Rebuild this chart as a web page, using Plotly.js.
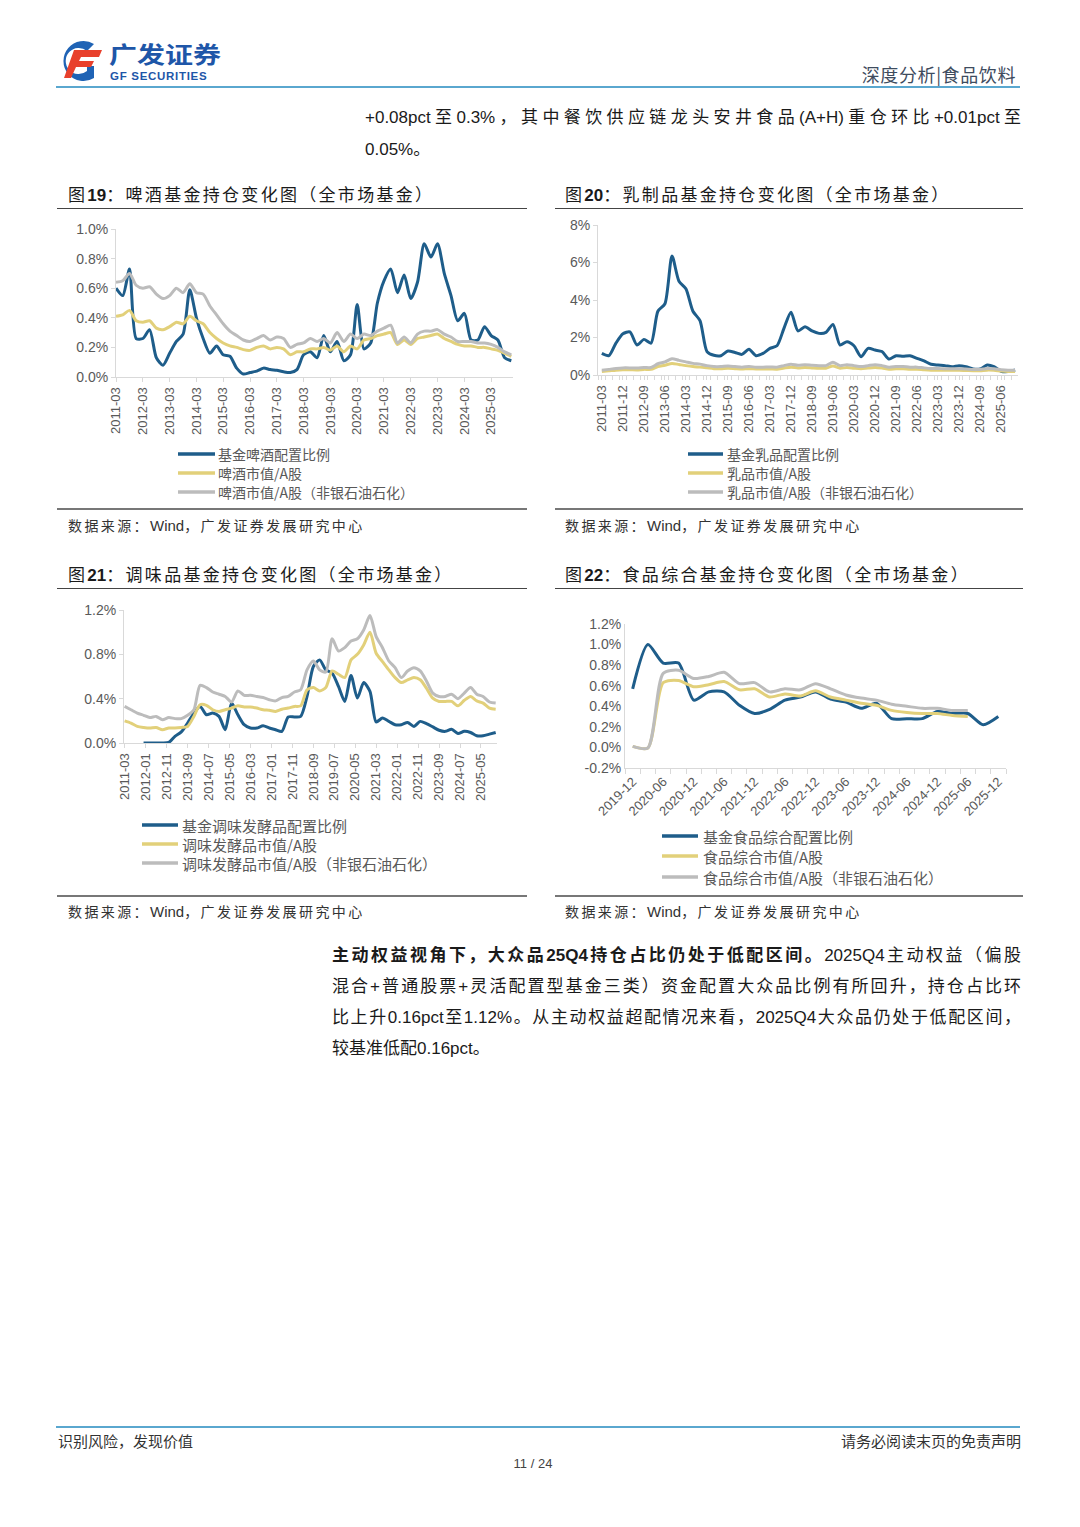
<!DOCTYPE html>
<html><head><meta charset="utf-8">
<script src="https://cdn.plot.ly/plotly-3.0.1.min.js"></script>
<style>
html,body{margin:0;padding:0;background:#fff;}
body{width:1080px;height:1527px;position:relative;overflow:hidden;font-family:"Liberation Sans Narrow","Liberation Sans","Noto Sans CJK SC",sans-serif;color:#222;}
.abs{position:absolute;}
.para{position:absolute;font-size:17px;line-height:20px;text-align:justify;text-align-last:justify;color:#1a1a1a;}
.ttl{position:absolute;font-size:17px;letter-spacing:2.3px;color:#1a1a1a;font-family:"Noto Sans CJK SC",sans-serif;white-space:nowrap;}
.ttl b{font-family:"Liberation Sans","Noto Sans CJK SC";font-weight:bold;letter-spacing:0;}
.src{position:absolute;font-size:14px;letter-spacing:2.4px;color:#333;font-family:"Noto Sans CJK SC",sans-serif;white-space:nowrap;}
.src span{font-family:"Liberation Sans";letter-spacing:0;font-size:15px;}
.hl{position:absolute;height:0;}
.chart{position:absolute;}
</style></head>
<body>
<!-- header -->
<svg class="abs" style="left:54px;top:38px" width="54" height="46" viewBox="0 0 54 46">
  <path d="M40 6 A20 20 0 1 0 40 40 L40 28 L33 28 L33 33 A13 13 0 1 1 33 13 Z" fill="#1f63b5"/>
  <path d="M20 12 L48 12 L45 19 L27 19 L25 23 L40 23 L37 29 L22 29 L17 40 L10 40 Z" fill="#e8402c"/>
</svg>
<div class="abs" style="left:109px;top:37px;font-size:28px;font-weight:bold;color:#1e56a8;font-family:'Noto Sans CJK SC';letter-spacing:0px;transform:scaleY(0.82);transform-origin:top left;">广发证券</div>
<div class="abs" style="left:110px;top:70px;font-size:11.5px;font-weight:bold;color:#1e56a8;font-family:'Liberation Sans';letter-spacing:0.7px;">GF SECURITIES</div>
<div class="abs" style="right:64px;top:61px;font-size:18px;letter-spacing:0.6px;color:#3e4b5e;font-family:'Noto Sans CJK SC';">深度分析|食品饮料</div>
<div class="hl" style="left:56px;top:86px;width:964px;border-top:2px solid #5aa7cf;"></div>

<div class="para" style="left:365px;top:108px;width:656px;">+0.08pct至0.3%，其中餐饮供应链龙头安井食品(A+H)重仓环比+0.01pct至</div>
<div class="para" style="left:365px;top:140px;width:300px;text-align-last:left;">0.05%。</div>

<!-- titles -->
<div class="ttl" style="left:68px;top:181px;">图<b>19</b>：啤酒基金持仓变化图（全市场基金）</div>
<div class="ttl" style="left:565px;top:181px;">图<b>20</b>：乳制品基金持仓变化图（全市场基金）</div>
<div class="hl" style="left:57px;top:208px;width:470px;border-top:1.5px solid #444;"></div>
<div class="hl" style="left:555px;top:208px;width:468px;border-top:1.5px solid #444;"></div>

<div class="hl" style="left:57px;top:508px;width:470px;border-top:2px solid #777;"></div>
<div class="hl" style="left:555px;top:508px;width:468px;border-top:2px solid #777;"></div>
<div class="src" style="left:68px;top:515px;">数据来源：<span>Wind</span>，广发证券发展研究中心</div>
<div class="src" style="left:565px;top:515px;">数据来源：<span>Wind</span>，广发证券发展研究中心</div>

<div class="ttl" style="left:68px;top:561px;">图<b>21</b>：调味品基金持仓变化图（全市场基金）</div>
<div class="ttl" style="left:565px;top:561px;">图<b>22</b>：食品综合基金持仓变化图（全市场基金）</div>
<div class="hl" style="left:57px;top:588px;width:470px;border-top:1.5px solid #444;"></div>
<div class="hl" style="left:555px;top:588px;width:468px;border-top:1.5px solid #444;"></div>

<div class="hl" style="left:57px;top:895px;width:470px;border-top:2px solid #777;"></div>
<div class="hl" style="left:555px;top:895px;width:468px;border-top:2px solid #777;"></div>
<div class="src" style="left:68px;top:901px;">数据来源：<span>Wind</span>，广发证券发展研究中心</div>
<div class="src" style="left:565px;top:901px;">数据来源：<span>Wind</span>，广发证券发展研究中心</div>

<div id="c1" class="chart" style="left:57px;top:215px;width:470px;height:290px;"></div>
<div id="c2" class="chart" style="left:555px;top:215px;width:470px;height:290px;"></div>
<div id="c3" class="chart" style="left:57px;top:598px;width:470px;height:296px;"></div>
<div id="c4" class="chart" style="left:555px;top:598px;width:470px;height:296px;"></div>

<!-- body text -->
<div class="para" style="left:332px;top:946px;width:689px;"><b>主动权益视角下，大众品25Q4持仓占比仍处于低配区间。</b>2025Q4主动权益（偏股</div>
<div class="para" style="left:332px;top:977px;width:689px;">混合+普通股票+灵活配置型基金三类）资金配置大众品比例有所回升，持仓占比环</div>
<div class="para" style="left:332px;top:1008px;width:689px;">比上升0.16pct至1.12%。从主动权益超配情况来看，2025Q4大众品仍处于低配区间，</div>
<div class="para" style="left:332px;top:1039px;width:400px;text-align-last:left;">较基准低配0.16pct。</div>

<!-- footer -->
<div class="hl" style="left:56px;top:1426px;width:964px;border-top:2px solid #5aa7cf;"></div>
<div class="abs" style="left:58px;top:1430px;font-size:15px;color:#333;font-family:'Noto Sans CJK SC';">识别风险，发现价值</div>
<div class="abs" style="right:59px;top:1430px;font-size:15px;color:#333;font-family:'Noto Sans CJK SC';">请务必阅读末页的免责声明</div>
<div class="abs" style="left:0;width:1066px;text-align:center;top:1456px;font-size:13px;color:#444;font-family:'Liberation Sans Narrow','Liberation Sans';">11 / 24</div>

<script>
// ---------- categories ----------
function quarters(y, m, n){const a=[];for(let i=0;i<n;i++){a.push(y+'-'+(m<10?'0':'')+m);m+=3;if(m>12){m-=12;y++;}}return a;}
function months(y, m, step, n){const a=[];for(let i=0;i<n;i++){a.push(y+'-'+(m<10?'0':'')+m);m+=step;while(m>12){m-=12;y++;}}return a;}
const q2011 = quarters(2011,3,60);      // 2011-03 .. 2025-12
const q2019 = quarters(2019,12,25);     // 2019-12 .. 2025-12

// ---------- Fig 19 beer ----------
const beerNames = ['基金啤酒配置比例','啤酒市值/A股','啤酒市值/A股（非银石油石化）'];
const beerFund = [0.60,0.55,0.73,0.26, 0.26,0.32,0.13,0.08, 0.16,0.24,0.29,0.59, 0.40,0.26,0.16,0.21,
  0.15,0.14,0.06,0.02, 0.03,0.04,0.06,0.05, 0.045,0.035,0.03,0.05, 0.15,0.17,0.13,0.28,
  0.17,0.24,0.11,0.15, 0.49,0.19,0.23,0.50, 0.65,0.73,0.57,0.69, 0.53,0.64,0.90,0.81,
  0.90,0.70,0.55,0.38, 0.43,0.25,0.25,0.34, 0.28,0.25,0.13,0.11];
const beerMkt = [0.41,0.42,0.45,0.38, 0.37,0.38,0.33,0.32, 0.34,0.37,0.36,0.41, 0.38,0.36,0.30,0.26,
  0.23,0.21,0.20,0.185, 0.18,0.20,0.21,0.19, 0.20,0.19,0.15,0.17, 0.17,0.19,0.19,0.20,
  0.18,0.21,0.17,0.21, 0.19,0.25,0.26,0.28, 0.29,0.30,0.22,0.25, 0.22,0.26,0.27,0.28,
  0.29,0.26,0.24,0.22, 0.21,0.21,0.20,0.20, 0.19,0.18,0.16,0.14];
const beerMktEx = [0.64,0.65,0.70,0.62, 0.60,0.61,0.56,0.53, 0.55,0.60,0.57,0.63, 0.57,0.56,0.48,0.42,
  0.36,0.31,0.28,0.25, 0.24,0.26,0.28,0.25, 0.27,0.26,0.20,0.22, 0.23,0.26,0.24,0.26,
  0.23,0.30,0.24,0.29, 0.26,0.29,0.28,0.31, 0.33,0.35,0.23,0.27, 0.23,0.29,0.31,0.31,
  0.32,0.29,0.27,0.24, 0.24,0.24,0.23,0.23, 0.22,0.20,0.17,0.15];
const beerTicks = months(2011,3,12,15);

// ---------- Fig 20 dairy ----------
const dairyNames = ['基金乳品配置比例','乳品市值/A股','乳品市值/A股（非银石油石化）'];
const dairyFund = [1.15,1.03,1.7,2.2, 2.3,1.6,1.9,1.7, 3.4,3.8,6.35,5.0, 4.6,3.4,2.9,1.25,
  1.05,1.03,1.28,1.2, 1.1,1.37,1.03,1.15, 1.42,1.56,2.5,3.35, 2.35,2.58,2.35,2.22,
  2.27,2.7,1.6,1.78, 1.56,0.98,1.42,1.33, 1.25,0.85,1.03,1.0, 1.03,0.89,0.75,0.57,
  0.53,0.5,0.44,0.5, 0.44,0.32,0.32,0.53, 0.44,0.2,0.18,0.27];
const dairyMkt = [0.18,0.22,0.26,0.28, 0.28,0.27,0.3,0.3, 0.45,0.52,0.62,0.56, 0.5,0.45,0.42,0.38,
  0.34,0.34,0.36,0.34, 0.32,0.34,0.32,0.32, 0.32,0.31,0.37,0.42, 0.38,0.4,0.38,0.36,
  0.36,0.48,0.36,0.4, 0.36,0.33,0.37,0.4, 0.37,0.31,0.33,0.33, 0.31,0.31,0.28,0.26,
  0.26,0.25,0.25,0.25, 0.24,0.23,0.23,0.26, 0.25,0.21,0.19,0.19];
const dairyMktEx = [0.25,0.3,0.35,0.38, 0.38,0.37,0.4,0.4, 0.6,0.7,0.87,0.78, 0.7,0.62,0.58,0.5,
  0.45,0.45,0.48,0.45, 0.42,0.45,0.42,0.42, 0.43,0.42,0.5,0.58, 0.52,0.55,0.52,0.5,
  0.5,0.68,0.5,0.55, 0.5,0.45,0.5,0.55, 0.5,0.42,0.45,0.45, 0.42,0.42,0.38,0.35,
  0.35,0.33,0.33,0.33, 0.32,0.3,0.3,0.35, 0.33,0.28,0.25,0.25];
const dairyTicks = months(2011,3,9,20);

// ---------- Fig 21 seasoning ----------
const seasNames = ['基金调味发酵品配置比例','调味发酵品市值/A股','调味发酵品市值/A股（非银石油石化）'];
const seasFund = [null,null,null,0.0, 0.0,0.0,0.0,0.005, 0.06,0.10,0.18,0.27, 0.33,0.255,0.27,0.24,
  0.12,0.36,0.255,0.165, 0.135,0.135,0.155,0.135, 0.12,0.105,0.235,0.235, 0.24,0.42,0.69,0.75,
  0.66,0.63,0.51,0.375, 0.61,0.405,0.545,0.465, 0.19,0.225,0.195,0.165, 0.165,0.185,0.15,0.195,
  0.175,0.145,0.115,0.105, 0.125,0.085,0.105,0.095, 0.065,0.065,0.08,0.095];
const seasMkt = [0.20,0.18,0.15,0.14, 0.135,0.14,0.12,0.135, 0.135,0.14,0.15,0.24, 0.345,0.34,0.30,0.285,
  0.30,0.315,0.335,0.325, 0.325,0.315,0.30,0.295, 0.285,0.305,0.315,0.33, 0.335,0.48,0.50,0.47,
  0.50,0.65,0.62,0.59, 0.75,0.80,0.885,1.0, 0.81,0.735,0.66,0.59, 0.545,0.57,0.59,0.57,
  0.495,0.405,0.375,0.375, 0.375,0.335,0.385,0.42, 0.38,0.36,0.315,0.305];
const seasMktEx = [0.33,0.30,0.27,0.25, 0.23,0.24,0.21,0.23, 0.22,0.22,0.25,0.30, 0.52,0.50,0.46,0.44,
  0.42,0.37,0.47,0.43, 0.43,0.42,0.41,0.39, 0.38,0.41,0.42,0.46, 0.48,0.66,0.74,0.66,
  0.64,0.94,0.83,0.86, 0.92,0.94,1.02,1.15, 0.96,0.86,0.74,0.68, 0.59,0.65,0.68,0.65,
  0.56,0.45,0.42,0.42, 0.44,0.40,0.45,0.50, 0.44,0.42,0.37,0.36];
const seasTicks = months(2011,3,10,18);

// ---------- Fig 22 food composite ----------
const foodNames = ['基金食品综合配置比例','食品综合市值/A股','食品综合市值/A股（非银石油石化）'];
const foodFund = [0.57,1.0,0.82,0.82, 0.46,0.54,0.54,0.41, 0.33,0.37,0.46,0.49, 0.54,0.47,0.44,0.38,
  0.43,0.28,0.28,0.28, 0.35,0.33,0.33,0.22, 0.30];
const foodMkt = [0.01,-0.005,0.63,0.65, 0.59,0.61,0.64,0.56, 0.57,0.49,0.52,0.50, 0.55,0.49,0.46,0.43,
  0.41,0.36,0.34,0.33, 0.33,0.31,0.30,null, null];
const foodMktEx = [0.01,-0.005,0.72,0.75, 0.67,0.69,0.73,0.62, 0.63,0.54,0.57,0.56, 0.62,0.57,0.51,0.48,
  0.46,0.42,0.40,0.38, 0.38,0.36,0.36,null, null];
const foodTicks = q2019.filter((d,i)=>i%2===0);
const foodYTicks = [-0.2,0.0,0.2,0.4,0.6,0.8,1.0,1.2];

// ---------- styling ----------
const COLORS = ['#1e5d8a','#e2d07a','#bcbcbc'];
const AXC = '#d9d9d9';
const TF = {family:'Liberation Sans, Arial, sans-serif', size:13, color:'#595959'};

function traces(x, ys, names){
  return ys.map((y,i)=>({x:x, y:y, name:names[i], type:'scatter', mode:'lines',
    line:{color:COLORS[i], width:3, shape:'spline', smoothing:0.7}, connectgaps:false, hoverinfo:'skip'}));
}
// legend drawn as shapes + annotations, positions given in div pixels
function draw(id, data, names, opt){
  const m = opt.m, W = 470, H = opt.h;
  const pw = W - m.l - m.r, ph = H - m.t - m.b;
  const px = v => (v - m.l) / pw, py = v => 1 - (v - m.t) / ph;
  const LF = {family:'Noto Sans CJK SC, sans-serif', size:opt.leg.fs, color:'#595959'};
  const shapes = [], ann = [];
  names.forEach((nm,i)=>{
    const yy = py(opt.leg.rows[i]);
    shapes.push({type:'line', xref:'paper', yref:'paper', x0:px(opt.leg.x0), x1:px(opt.leg.x1), y0:yy, y1:yy,
      line:{color:COLORS[i], width:3.5}});
    ann.push({xref:'paper', yref:'paper', x:px(opt.leg.tx), y:yy, xanchor:'left', yanchor:'middle',
      text:nm, showarrow:false, font:LF, borderpad:0});
  });
  const layout = {
    width:W, height:H, margin:m, paper_bgcolor:'#fff', plot_bgcolor:'#fff',
    showlegend:false, shapes:shapes, annotations:ann,
    xaxis:Object.assign({showline:true, linecolor:AXC, linewidth:1, showgrid:false, zeroline:false, tickfont:TF,
      ticks:'outside', ticklen:4, tickcolor:AXC, automargin:false, fixedrange:true}, opt.x),
    yaxis:Object.assign({showline:true, linecolor:AXC, linewidth:1, showgrid:false, zeroline:false, tickfont:Object.assign({},TF,{size:14}),
      ticks:'outside', ticklen:4, tickcolor:AXC, automargin:false, fixedrange:true, ticksuffix:'%'}, opt.y)
  };
  Plotly.newPlot(id, data, layout, {staticPlot:true, displayModeBar:false});
}

draw('c1', traces(q2011,[beerFund,beerMkt,beerMktEx],beerNames), beerNames, {
  h:290, m:{l:59,r:14,t:14,b:128}, leg:{fs:14, x0:121, x1:158, tx:160, rows:[239,258,277]},
  x:{type:'date', range:['2011-03-01','2025-12-24'], tickvals:beerTicks, ticktext:beerTicks, tickangle:-90},
  y:{range:[0,1.0], dtick:0.2, tick0:0, tickformat:'.1f'}
});
draw('c2', traces(q2011,[dairyFund,dairyMkt,dairyMktEx],dairyNames), dairyNames, {
  h:290, m:{l:43,r:7,t:10,b:130}, leg:{fs:14, x0:133, x1:168, tx:171, rows:[239,258,277]},
  x:{type:'date', range:['2011-01-10','2026-01-08'], tickvals:dairyTicks, ticktext:dairyTicks, tickangle:-90,
     minor:{tick0:'2011-01-15', dtick:'M3', ticks:'outside', ticklen:4, tickcolor:AXC}},
  y:{range:[0,8], dtick:2, tick0:0, tickformat:'d'}
});
draw('c3', traces(q2011,[seasFund,seasMkt,seasMktEx],seasNames), seasNames, {
  h:296, m:{l:67,r:30,t:12,b:151}, leg:{fs:15, x0:85, x1:121, tx:124, rows:[227,246,265]},
  x:{type:'date', range:['2011-02-20','2025-12-20'], tickvals:seasTicks, ticktext:seasTicks, tickangle:-90},
  y:{range:[0,1.2], dtick:0.4, tick0:0, tickformat:'.1f'}
});
draw('c4', traces(q2019,[foodFund,foodMkt,foodMktEx],foodNames), foodNames, {
  h:296, m:{l:70,r:19,t:26,b:126}, leg:{fs:15, x0:107, x1:143, tx:147, rows:[238,258,279]},
  x:{type:'date', range:['2019-10-16','2026-01-16'], tickvals:foodTicks, ticktext:foodTicks, tickangle:-45, ticks:'',
     minor:{tick0:'2019-10-16', dtick:'M3', ticks:'outside', ticklen:5, tickcolor:AXC}},
  y:{range:[-0.2,1.2], tickvals:foodYTicks, ticktext:foodYTicks.map(v=>v.toFixed(1)+'%'), ticksuffix:'', ticks:''}
});
</script>
</body></html>
